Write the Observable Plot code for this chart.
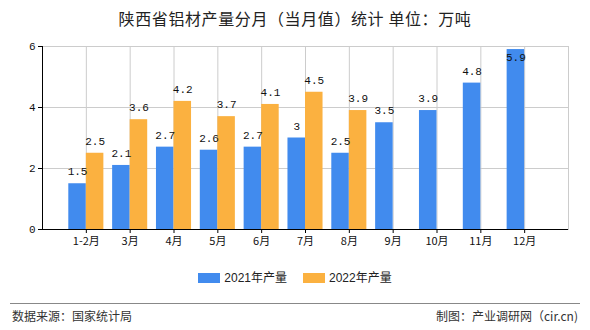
<!DOCTYPE html>
<html><head><meta charset="utf-8">
<script src="https://cdn.jsdelivr.net/npm/d3@7"></script>
<script src="https://cdn.jsdelivr.net/npm/@observablehq/plot@0.6"></script>
<style>
body{margin:0;width:590px;height:330px;background:#fff;font-family:"Noto Sans CJK SC",sans-serif;overflow:hidden;position:relative}
#title{position:absolute;top:6px;left:0;width:590px;text-align:center;font-size:16px;color:#222;letter-spacing:0.6px}
#chart{position:absolute;top:34px;left:0}
#legend{position:absolute;top:268px;left:0;width:590px;display:flex;justify-content:center;gap:16px;font-family:"Liberation Sans","Noto Sans CJK SC",sans-serif;font-size:12px;color:#222}
#legend span.sw{display:inline-block;width:22px;height:10px;margin-right:4px;vertical-align:-1px}
#rule{position:absolute;top:303px;left:10px;width:570px;height:1px;background:#888}
#src{position:absolute;top:307px;left:12px;font-size:12px;color:#333}
#by{position:absolute;top:307px;right:12px;font-size:12px;color:#333}
</style></head>
<body>
<div id="title">陕西省铝材产量分月（当月值）统计 单位：万吨</div>
<div id="chart"></div>
<div id="legend"></div>
<div id="rule"></div>
<div id="src">数据来源：国家统计局</div>
<div id="by">制图：产业调研网（cir.cn)</div>
<script>
const months = ["1-2月","3月","4月","5月","6月","7月","8月","9月","10月","11月","12月"];
const series = ["2021年产量","2022年产量"];
const values2021 = [1.5,2.1,2.7,2.6,2.7,3,2.5,3.5,3.9,4.8,5.9];
const values2022 = [2.5,3.6,4.2,3.7,4.1,4.5,3.9];
const colors = ["#418bee","#fbb140"];
const yTicks = [0,2,4,6];

const d21 = values2021.map((v,i)=>({m:months[i],v}));
const d22 = values2022.map((v,i)=>({m:months[i],v}));
const labelFont = "'Liberation Mono','DejaVu Sans Mono',monospace";
const W = 590, mL = 42, mR = 22;
const step = (W - mL - mR) / (months.length + 1);
const outer = step*0.1, half = step*0.5;

const chart = Plot.plot({
  width: W, height: 222,
  marginLeft: mL, marginRight: mR, marginTop: 12, marginBottom: 27,
  style: {fontFamily: labelFont, fontSize: "11px", color: "#111", background: "transparent"},
  x: {domain: months, padding: 0, paddingInner: 0, paddingOuter: 0.5, round: false, label: null},
  y: {domain: [0,6], label: null},
  marks: [
    Plot.gridY(yTicks, {stroke: "#ccc", strokeOpacity: 1}),
    Plot.gridX({stroke: "#ccc", strokeOpacity: 1}),
    Plot.frame({stroke: "#ccc"}),
    Plot.barY(d21, {x: "m", y: "v", fill: colors[0], insetLeft: outer, insetRight: half}),
    Plot.barY(d22, {x: "m", y: "v", fill: colors[1], insetLeft: half, insetRight: outer}),
    Plot.text(d21.filter(d=>d.v<5.5), {x: "m", y: "v", text: d=>String(d.v), dx: -(half-outer)/2, dy: -12, fill: "#111"}),
    Plot.text(d21.filter(d=>d.v>=5.5), {x: "m", y: "v", text: d=>String(d.v), dx: -(half-outer)/2, dy: 8, fill: "#111"}),
    Plot.text(d22, {x: "m", y: "v", text: d=>String(d.v), dx: (half-outer)/2, dy: -12, fill: "#111"}),
    Plot.axisY({ticks: yTicks, tickFormat: d=>String(d), tickSize: 4, tickPadding: 3, stroke: "#000", fill: "#111", fontSize: 11}),
    Plot.axisX({tickSize: 4, tickPadding: 4, stroke: "#000", fill: "#111", fontFamily: "'Noto Sans CJK SC',sans-serif", fontSize: 11}),
    Plot.ruleY([0], {stroke: "#000"}),
    Plot.frame({anchor: "left", stroke: "#000"})
  ]
});
document.getElementById("chart").appendChild(chart);

const lg = document.getElementById("legend");
series.forEach((s,i)=>{
  const it = document.createElement("div");
  it.innerHTML = `<span class="sw" style="background:${colors[i]}"></span>${s}`;
  lg.appendChild(it);
});
</script>
</body></html>
